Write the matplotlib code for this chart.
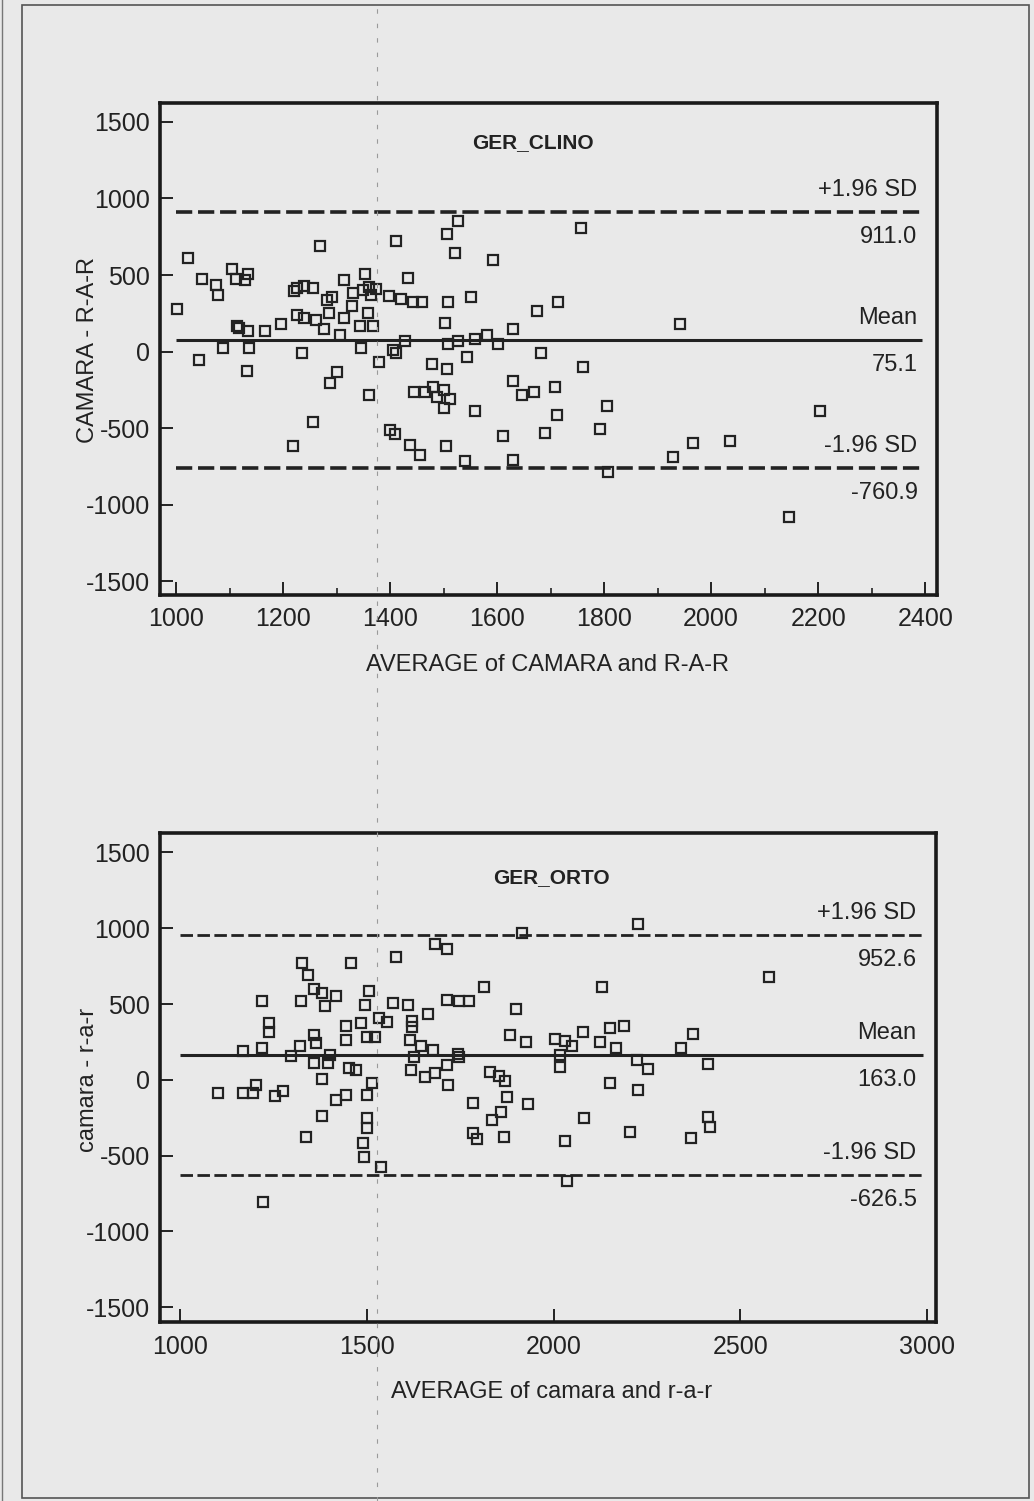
import matplotlib
matplotlib.use('Agg')
import matplotlib.pyplot as plt
from matplotlib.ticker import MultipleLocator
from matplotlib.lines import Line2D
from matplotlib.patches import Rectangle

FONT = ['Liberation Sans Narrow', 'Liberation Sans', 'DejaVu Sans']
plt.rcParams['font.family'] = FONT
plt.rcParams['axes.unicode_minus'] = False

# GER_CLINO: (average, difference)
clino_avg = [1023, 1002, 1049, 1075, 1079, 1104, 1112, 1129, 1134, 1269, 1411, 1506,
             1043, 1087, 1113, 1117, 1134, 1137, 1133, 1166, 1196, 1221, 1226, 1239,
             1255, 1226, 1240, 1261, 1236, 1277, 1285, 1282, 1291, 1314, 1330, 1353,
             1350, 1361, 1364, 1374, 1328, 1314, 1358, 1343, 1368, 1307, 1346, 1300,
             1288, 1379, 1361, 1255, 1398, 1420, 1442, 1459, 1434, 1427, 1406, 1411,
             1478, 1444, 1465, 1480, 1487, 1500, 1500, 1503, 1509, 1506, 1509, 1400,
             1409, 1437, 1456, 1505, 1218, 1526, 1521, 1592, 1757, 1551, 1675, 1713,
             1629, 1941, 1526, 1559, 1581, 1602, 1682, 1544, 1760, 1511, 1559, 1629,
             1646, 1668, 1708, 1712, 1805, 1792, 1611, 1690, 1966, 1540, 1629, 1929,
             1808, 2204, 2035, 2145]
clino_diff = [611, 280, 476, 432, 367, 537, 476, 465, 509, 690, 722, 768,
              -54, 22, 166, 155, 131, 22, -129, 131, 177, 393, 415, 426,
              417, 236, 218, 203, -9, 144, 251, 339, 356, 465, 382, 509,
              400, 421, 367, 406, 297, 221, 251, 164, 164, 105, 22, -131,
              -208, -70, -284, -463, 360, 341, 323, 323, 480, 67, 11, -11,
              -81, -267, -262, -234, -299, -251, -369, 185, 323, -113, 50, -511,
              -539, -609, -675, -616, -616, 853, 644, 596, 810, 356, 264, 323,
              144, 177, 67, 79, 105, 50, -10, -37, -98, -310, -386, -190,
              -282, -262, -234, -415, -354, -506, -555, -535, -598, -714, -709, -688,
              -790, -386, -583, -1081]
clino_stats = [911.0, 75.1, -760.9]

# GER_ORTO: (average, difference)
orto_avg = [1682, 1714, 1327, 1343, 1358, 1380, 1417, 1389, 1323, 1218, 1457, 1578,
            1505, 1495, 1569, 1611, 1663, 1714, 1237, 1237, 1444, 1483, 1532, 1554,
            1621, 1621, 1358, 1365, 1444, 1501, 1521, 1615, 1644, 1676, 1169, 1218,
            1322, 1296, 1401, 1358, 1396, 1627, 1714, 1453, 1471, 1617, 1655, 1682,
            1718, 1380, 1515, 1102, 1169, 1195, 1203, 1254, 1276, 1417, 1444, 1501,
            1380, 1501, 1501, 1337, 1490, 1493, 1537, 1222,
            1916, 2225, 1814, 1746, 1773, 1898, 2129, 1883, 1926, 2004, 2030, 2048,
            2078, 2124, 2151, 2189, 2167, 2373, 2341, 1745, 1746, 2017, 2017, 2224,
            2252, 2414, 1830, 1854, 1870, 2151, 2225, 1783, 1874, 1931, 1858, 1836,
            1783, 1794, 1868, 2082, 2030, 2205, 2368, 2414, 2419, 2037, 2578]
orto_diff = [894, 861, 769, 692, 598, 575, 553, 487, 522, 522, 769, 813,
             588, 494, 509, 494, 433, 527, 377, 318, 358, 373, 406, 384,
             390, 347, 296, 245, 263, 285, 281, 263, 224, 197, 193, 208,
             224, 158, 164, 113, 113, 153, 98, 77, 65, 65, 21, 44,
             -34, 6, -22, -88, -88, -88, -34, -104, -71, -133, -100, -100,
             -238, -253, -315, -379, -418, -511, -573, -807,
             967, 1028, 615, 522, 522, 466, 615, 296, 252, 268, 259, 224,
             314, 252, 344, 358, 212, 301, 212, 171, 151, 164, 87, 131,
             72, 103, 54, 26, -7, -18, -67, -154, -115, -159, -214, -264,
             -352, -390, -375, -249, -403, -342, -385, -247, -313, -665, 677]
orto_stats = [952.6, 163.0, -626.5]

W, H = 1034, 1501
BG = '#e9e9e9'
INK = '#222222'

fig = plt.figure(figsize=(W / 100, H / 100), dpi=100)
fig.patch.set_facecolor(BG)

# scanned page frame
fig.patches.append(Rectangle((22 / W, 3 / H), (1029 - 22) / W, (1496 - 3) / H,
                             transform=fig.transFigure, fill=False,
                             edgecolor='#555555', lw=1.2))
fig.lines.append(Line2D([2 / W, 2 / W], [0, 1], transform=fig.transFigure,
                        color='#777777', lw=1.0))
fig.lines.append(Line2D([377 / W, 377 / W], [0, 1], transform=fig.transFigure,
                        color='#9a9a9a', lw=0.8, ls=(0, (4, 9))))


def px_box(left, top, right, bottom):
    return [left / W, 1 - bottom / H, (right - left) / W, (bottom - top) / H]


def draw_panel(ax, avg, diff, stats, xlim, ylim, xmajor, xminor, line_end,
               title, title_xy, dash_lw, ms):
    ax.set_facecolor(BG)
    ax.set_xlim(*xlim)
    ax.set_ylim(*ylim)

    upper, mean, lower = stats
    ax.hlines(upper, 1000, line_end, color=INK, lw=dash_lw, linestyles=(0, (4.5, 1.6)))
    ax.hlines(lower, 1000, line_end, color=INK, lw=dash_lw, linestyles=(0, (4.5, 1.6)))
    ax.hlines(mean, 1000, line_end, color=INK, lw=2.2)

    ax.plot(avg, diff, 's', ms=ms, mfc='none', mec='#222222', mew=1.6)

    for sp in ax.spines.values():
        sp.set_linewidth(2.6)
        sp.set_color('#1a1a1a')

    ax.yaxis.set_major_locator(MultipleLocator(500))
    ax.xaxis.set_major_locator(MultipleLocator(xmajor))
    if xminor:
        ax.xaxis.set_minor_locator(MultipleLocator(xminor))
    ax.yaxis.set_minor_locator(plt.NullLocator())
    ax.tick_params(which='major', direction='in', length=9.5, width=1.4,
                   colors=INK, labelsize=18, pad=7)
    ax.tick_params(axis='x', which='major', pad=9)
    ax.tick_params(which='minor', direction='in', length=5, width=1.2, colors=INK)

    ax.text(title_xy[0], title_xy[1], title, transform=ax.transAxes,
            ha='center', va='center', fontsize=15, fontweight='bold', color=INK)

    tr = ax.get_yaxis_transform()
    labels = [('+1.96 SD', '%.1f' % upper, upper),
              ('Mean', '%.1f' % mean, mean),
              ('-1.96 SD', '%.1f' % lower, lower)]
    for above, below, yv in labels:
        ax.annotate(above, (0.975, yv), xycoords=tr, xytext=(0, 16),
                    textcoords='offset points', ha='right', va='center',
                    fontsize=17, color=INK)
        ax.annotate(below, (0.975, yv), xycoords=tr, xytext=(0, -18),
                    textcoords='offset points', ha='right', va='center',
                    fontsize=17, color=INK)


ax1 = fig.add_axes(px_box(160, 103, 937, 595))
draw_panel(ax1, clino_avg, clino_diff, clino_stats, (970, 2422), (-1591, 1624),
           200, 100, 2394, 'GER_CLINO', (0.48, 0.919), 2.6, 7)

ax2 = fig.add_axes(px_box(160, 833, 936, 1322))
draw_panel(ax2, orto_avg, orto_diff, orto_stats, (946, 3024), (-1597, 1628),
           500, None, 2990, 'GER_ORTO', (0.505, 0.908), 2.0, 6.5)

fig.text(88 / W, 1 - 350 / H, 'CAMARA - R-A-R', rotation=90, ha='center',
         va='center', fontsize=17, color=INK)
fig.text(548 / W, 1 - 665 / H, 'AVERAGE of CAMARA and R-A-R', ha='center',
         va='center', fontsize=17, color=INK)
fig.text(88 / W, 1 - 1080 / H, 'camara - r-a-r', rotation=90, ha='center',
         va='center', fontsize=17, color=INK)
fig.text(552 / W, 1 - 1392 / H, 'AVERAGE of camara and r-a-r', ha='center',
         va='center', fontsize=17, color=INK)

fig.savefig('out.png', dpi=100, facecolor=BG)
